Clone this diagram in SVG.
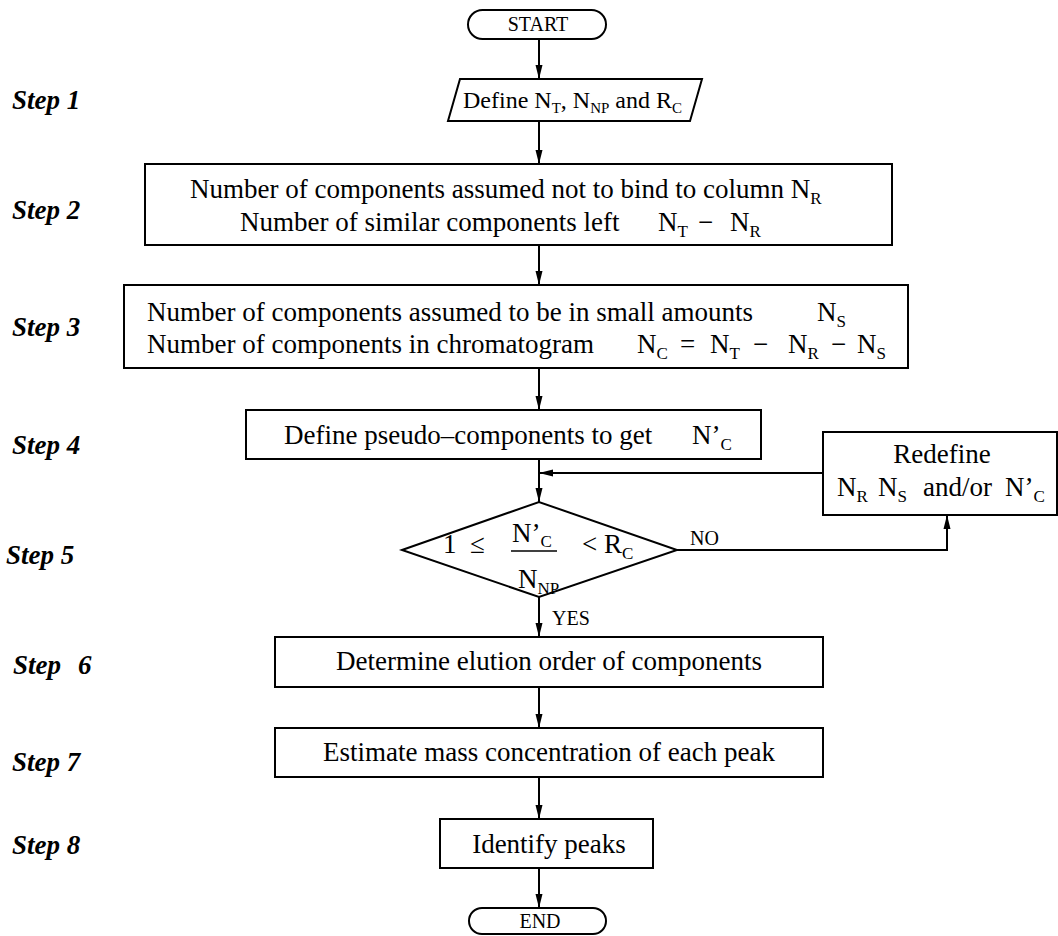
<svg xmlns="http://www.w3.org/2000/svg" width="1058" height="936" viewBox="0 0 1058 936">
<style>
.t{font-family:"Liberation Serif","Times New Roman",serif;font-size:27px;fill:#000}
.m{text-anchor:middle}
.s{font-size:17px}
.sm{font-size:20px}
.step{font-family:"Liberation Serif","Times New Roman",serif;font-weight:bold;font-style:italic;font-size:27px;fill:#000}
.box{fill:#fff;stroke:#000;stroke-width:2}
.ln{stroke:#000;stroke-width:2;fill:none}
</style>
<defs>
<marker id="ah" viewBox="0 0 14 8" refX="14" refY="4" markerWidth="14" markerHeight="8" markerUnits="userSpaceOnUse" orient="auto">
<path d="M0,0.5 L14,4 L0,7.5 z" fill="#000"/>
</marker>
</defs>
<rect width="1058" height="936" fill="#fff"/>

<g id="labels">
<text class="step" x="12" y="109">Step 1</text>
<text class="step" x="12" y="219">Step 2</text>
<text class="step" x="12" y="336">Step 3</text>
<text class="step" x="12" y="454">Step 4</text>
<text class="step" x="6" y="564">Step 5</text>
<text class="step" x="13" y="674">Step<tspan x="78">6</tspan></text>
<text class="step" x="12" y="771">Step 7</text>
<text class="step" x="12" y="854">Step 8</text>
</g>

<g id="connectors">
<line class="ln" x1="539" y1="39" x2="539" y2="79" marker-end="url(#ah)"/>
<line class="ln" x1="539" y1="121" x2="539" y2="164" marker-end="url(#ah)"/>
<line class="ln" x1="539" y1="245" x2="539" y2="285" marker-end="url(#ah)"/>
<line class="ln" x1="539" y1="368" x2="539" y2="410" marker-end="url(#ah)"/>
<line class="ln" x1="539" y1="459" x2="539" y2="502" marker-end="url(#ah)"/>
<line class="ln" x1="823" y1="473" x2="539" y2="473" marker-end="url(#ah)"/>
<polyline class="ln" points="677,550 947,550 947,515" marker-end="url(#ah)"/>
<line class="ln" x1="539" y1="597" x2="539" y2="637" marker-end="url(#ah)"/>
<line class="ln" x1="539" y1="687" x2="539" y2="728" marker-end="url(#ah)"/>
<line class="ln" x1="539" y1="777" x2="539" y2="819" marker-end="url(#ah)"/>
<line class="ln" x1="539" y1="868" x2="539" y2="908" marker-end="url(#ah)"/>
<text class="t sm" x="690" y="545">NO</text>
<text class="t sm" x="552" y="625">YES</text>
</g>

<g id="start">
<rect class="box" x="468" y="10" width="138" height="29" rx="14.5"/>
<text class="t m sm" x="538" y="31">START</text>
</g>

<g id="step1">
<polygon class="box" points="460,79 702,79 690,121 448,121"/>
<text class="t" x="463" y="108" style="font-size:24px">Define N<tspan style="font-size:15px" dy="5">T</tspan><tspan dy="-5">, N</tspan><tspan style="font-size:15px" dy="5">NP</tspan><tspan dy="-5"> and R</tspan><tspan style="font-size:15px" dy="5">C</tspan></text>
</g>

<g id="step2">
<rect class="box" x="145" y="164" width="747" height="81"/>
<text class="t" x="190" y="198">Number of components assumed not to bind to column N<tspan class="s" dy="6">R</tspan></text>
<text class="t" x="240" y="231">Number of similar components left<tspan x="658">N</tspan><tspan class="s" dy="6">T</tspan><tspan x="698" dy="-6">−</tspan><tspan x="730">N</tspan><tspan class="s" dy="6">R</tspan></text>
</g>

<g id="step3">
<rect class="box" x="124" y="285" width="784" height="83"/>
<text class="t" x="147" y="321">Number of components assumed to be in small amounts<tspan x="817">N</tspan><tspan class="s" dy="6">S</tspan></text>
<text class="t" x="147" y="353">Number of components in chromatogram<tspan x="637">N</tspan><tspan class="s" dy="6">C</tspan><tspan x="680" dy="-6">=</tspan><tspan x="710">N</tspan><tspan class="s" dy="6">T</tspan><tspan x="753" dy="-6">−</tspan><tspan x="788">N</tspan><tspan class="s" dy="6">R</tspan><tspan x="831" dy="-6">−</tspan><tspan x="857">N</tspan><tspan class="s" dy="6">S</tspan></text>
</g>

<g id="step4">
<rect class="box" x="246" y="410" width="515" height="49"/>
<text class="t" x="284" y="444">Define pseudo–components to get<tspan x="692">N’</tspan><tspan class="s" dy="6">C</tspan></text>
</g>

<g id="redefine">
<rect class="box" x="823" y="432" width="234" height="83"/>
<text class="t m" x="942" y="463">Redefine</text>
<text class="t" x="837" y="496">N<tspan class="s" dy="6">R</tspan><tspan x="878" dy="-6">N</tspan><tspan class="s" dy="6">S</tspan><tspan x="923" dy="-6">and/or</tspan><tspan x="1005">N’</tspan><tspan class="s" dy="6">C</tspan></text>
</g>

<g id="step5">
<polygon class="box" points="402,550 539,502 677,550 539,597"/>
<text class="t" x="443" y="553">1</text>
<text class="t" x="470" y="553">≤</text>
<text class="t" x="512" y="542">N’<tspan class="s" dy="5">C</tspan></text>
<line class="ln" x1="511" y1="551" x2="557" y2="551" style="stroke-width:1.5"/>
<text class="t" x="518" y="588">N<tspan class="s" dy="6">NP</tspan></text>
<text class="t" x="582" y="553">&lt;</text>
<text class="t" x="604" y="553">R<tspan class="s" dy="6">C</tspan></text>
</g>

<g id="step6">
<rect class="box" x="275" y="637" width="548" height="50"/>
<text class="t m" x="549" y="670">Determine elution order of components</text>
</g>

<g id="step7">
<rect class="box" x="275" y="728" width="548" height="49"/>
<text class="t m" x="549" y="761">Estimate mass concentration of each peak</text>
</g>

<g id="step8">
<rect class="box" x="440" y="819" width="213" height="49"/>
<text class="t m" x="549" y="853">Identify peaks</text>
</g>

<g id="end">
<rect class="box" x="469" y="908" width="137" height="26" rx="13"/>
<text class="t m sm" x="540" y="928">END</text>
</g>
</svg>
